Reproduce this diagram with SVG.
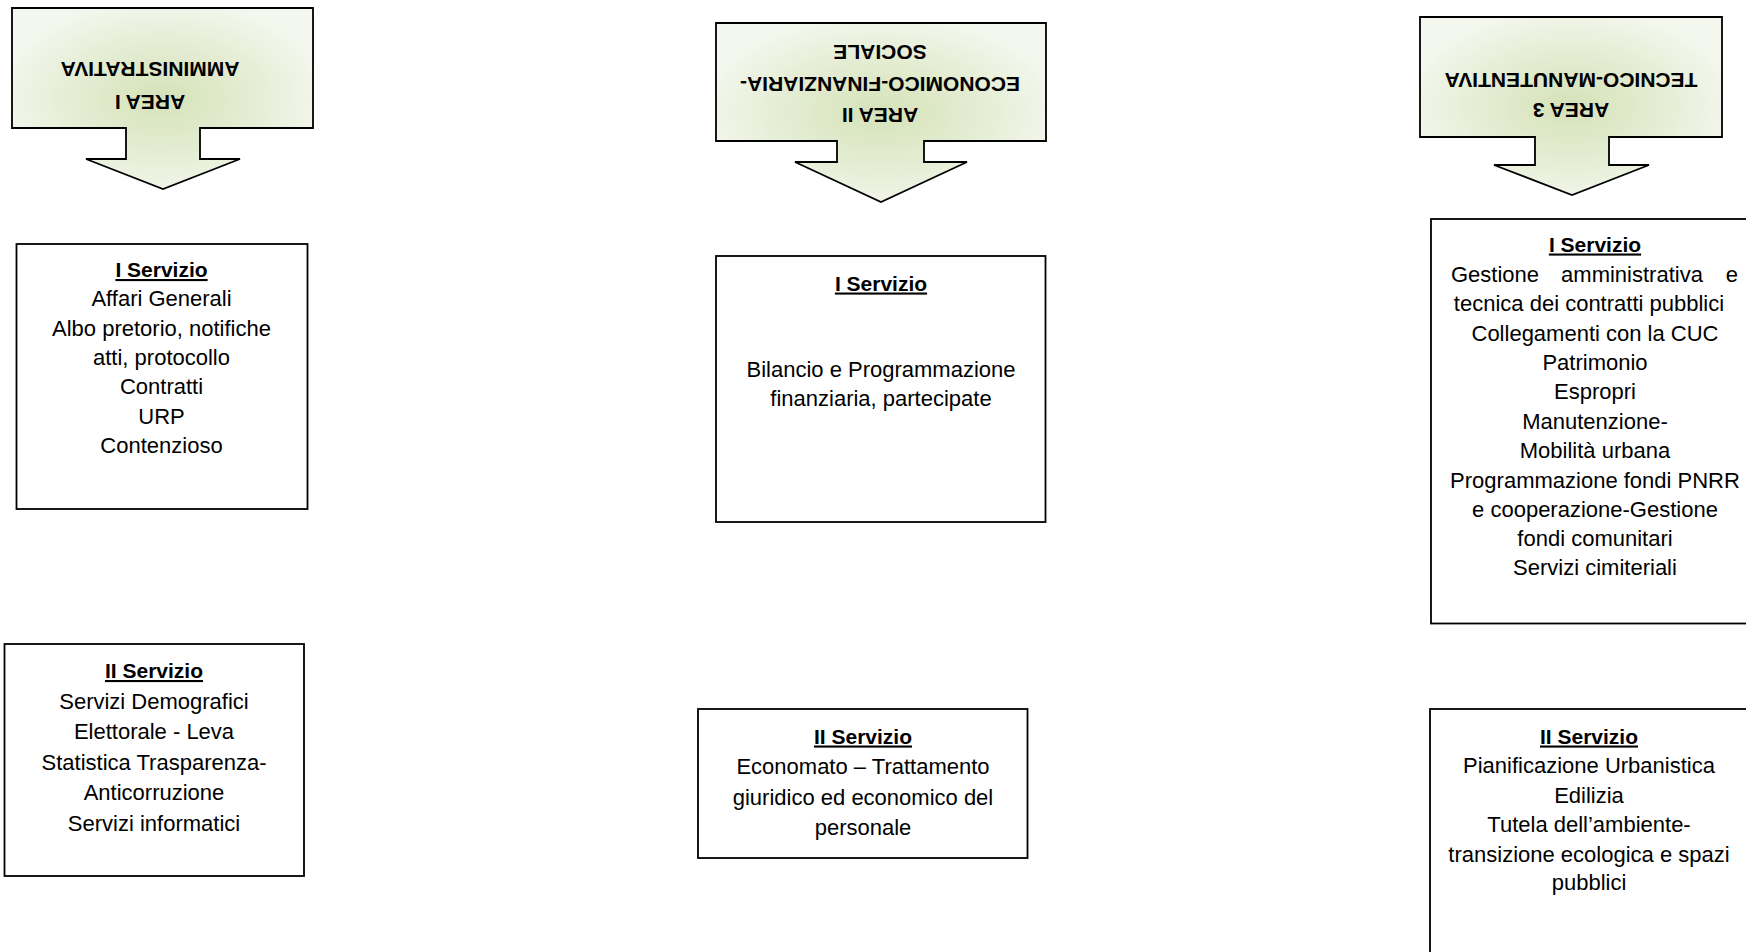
<svg xmlns="http://www.w3.org/2000/svg" width="1746" height="952" viewBox="0 0 1746 952">
<defs>
<radialGradient id="gr" cx="0.5" cy="0.5" r="0.55">
<stop offset="0" stop-color="#d5e2b8"/>
<stop offset="0.6" stop-color="#e6eed6"/>
<stop offset="1" stop-color="#f4f7ee"/>
</radialGradient>
<style>
.arrow{fill:url(#gr);stroke:#000;stroke-width:1.8;stroke-linejoin:miter}
.box{fill:#fff;stroke:#000;stroke-width:1.8}
.t{font-family:"Liberation Sans",Arial,sans-serif;font-size:22px;text-anchor:middle;fill:#000}
.h{font-family:"Liberation Sans",Arial,sans-serif;font-size:21px;font-weight:bold;text-anchor:middle;text-decoration:underline;fill:#000}
.a{font-family:"Liberation Sans",Arial,sans-serif;font-size:21px;font-weight:bold;text-anchor:middle;fill:#000}
</style>
</defs>
<rect width="1746" height="952" fill="#fff"/>

<g id="area1">
<path class="arrow" d="M12,8 H313 V128 H200 V159 H240 L163,189 L86,159 H126 V128 H12 Z"/>
<g transform="rotate(180 150 85.5)">
<text class="a" x="150" y="76.5">AREA I</text>
<text class="a" x="150" y="109.5">AMMINISTRATIVA</text>
</g>
</g>

<g id="area2">
<path class="arrow" d="M716,23 H1046 V141 H924 V162 H967 L881,202 L795,162 H837 V141 H716 Z"/>
<g transform="rotate(180 880 84)">
<text class="a" x="880" y="60">AREA II</text>
<text class="a" x="880" y="91.5">ECONOMICO-FINANZIARIA-</text>
<text class="a" x="880" y="123">SOCIALE</text>
</g>
</g>

<g id="area3">
<path class="arrow" d="M1420,17 H1722 V137 H1609 V165 H1649 L1572,195 L1494,165 H1535 V137 H1420 Z"/>
<g transform="rotate(180 1571 95)">
<text class="a" x="1571" y="87.5">AREA 3</text>
<text class="a" x="1571" y="117.5">TECNICO-MANUTENTIVA</text>
</g>
</g>

<g id="a1s1">
<rect class="box" x="16.5" y="244" width="291" height="265"/>
<text class="h" x="161.5" y="277">I Servizio</text>
<text class="t" x="161.5" y="306.3">Affari Generali</text>
<text class="t" x="161.5" y="335.6">Albo pretorio, notifiche</text>
<text class="t" x="161.5" y="364.9">atti, protocollo</text>
<text class="t" x="161.5" y="394.2">Contratti</text>
<text class="t" x="161.5" y="423.5">URP</text>
<text class="t" x="161.5" y="452.8">Contenzioso</text>
</g>

<g id="a1s2">
<rect class="box" x="4.5" y="644" width="299.5" height="232"/>
<text class="h" x="154" y="678">II Servizio</text>
<text class="t" x="154" y="708.5">Servizi Demografici</text>
<text class="t" x="154" y="739">Elettorale - Leva</text>
<text class="t" x="154" y="769.5">Statistica Trasparenza-</text>
<text class="t" x="154" y="800">Anticorruzione</text>
<text class="t" x="154" y="830.5">Servizi informatici</text>
</g>

<g id="a2s1">
<rect class="box" x="716" y="256" width="329.5" height="266"/>
<text class="h" x="881" y="290.5">I Servizio</text>
<text class="t" x="881" y="377">Bilancio e Programmazione</text>
<text class="t" x="881" y="406">finanziaria, partecipate</text>
</g>

<g id="a2s2">
<rect class="box" x="698" y="709" width="329.5" height="149"/>
<text class="h" x="863" y="743.5">II Servizio</text>
<text class="t" x="863" y="774">Economato – Trattamento</text>
<text class="t" x="863" y="804.5">giuridico ed economico del</text>
<text class="t" x="863" y="835">personale</text>
</g>

<g id="a3s1">
<rect class="box" x="1431" y="219" width="340" height="404.5"/>
<text class="h" x="1595" y="251.5">I Servizio</text>
<text class="t" x="1451" y="281.5" style="text-anchor:start">Gestione</text>
<text class="t" x="1632" y="281.5">amministrativa</text>
<text class="t" x="1738" y="281.5" style="text-anchor:end">e</text>
<text class="t" x="1589" y="310.5">tecnica dei contratti pubblici</text>
<text class="t" x="1595" y="340.5">Collegamenti con la CUC</text>
<text class="t" x="1595" y="369.5">Patrimonio</text>
<text class="t" x="1595" y="398.5">Espropri</text>
<text class="t" x="1595" y="428.5">Manutenzione-</text>
<text class="t" x="1595" y="457.5">Mobilità urbana</text>
<text class="t" x="1595" y="487.5">Programmazione fondi PNRR</text>
<text class="t" x="1595" y="516.5">e cooperazione-Gestione</text>
<text class="t" x="1595" y="545.5">fondi comunitari</text>
<text class="t" x="1595" y="574.5">Servizi cimiteriali</text>
</g>

<g id="a3s2">
<rect class="box" x="1430" y="709" width="340" height="300"/>
<text class="h" x="1589" y="743.5">II Servizio</text>
<text class="t" x="1589" y="772.5">Pianificazione Urbanistica</text>
<text class="t" x="1589" y="802.5">Edilizia</text>
<text class="t" x="1589" y="831.5">Tutela dell’ambiente-</text>
<text class="t" x="1589" y="861.5">transizione ecologica e spazi</text>
<text class="t" x="1589" y="889.5">pubblici</text>
</g>

<g id="connectors"></g>
</svg>
